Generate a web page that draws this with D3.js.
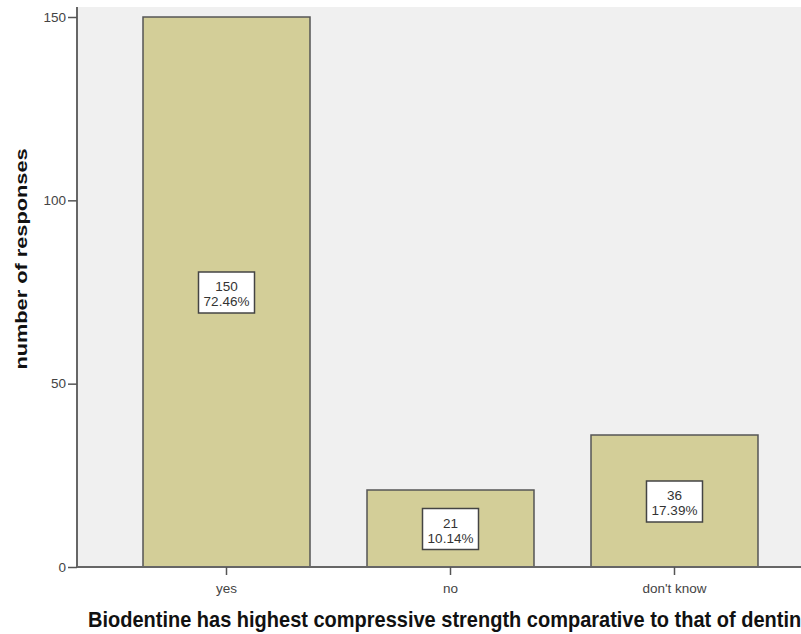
<!DOCTYPE html>
<html><head><meta charset="utf-8">
<script src="https://cdn.jsdelivr.net/npm/d3@7"></script>
<style>body{margin:0;background:#fff;}svg{display:block;font-family:Arial,"Liberation Sans",sans-serif;}</style>
</head><body><svg id="c" width="801" height="634"></svg>
<script>
const categories = ["yes", "no", "don't know"];
const counts = [150, 21, 36];
const percents = ["72.46%", "10.14%", "17.39%"];
const yTicks = [0, 50, 100, 150];
const xTitle = "Biodentine has highest compressive strength comparative to that of dentine";
const yTitle = "number of responses";

const svg = d3.select("#c");
const pLeft = 77, pTop = 7, pBottom = 567, pRight = 801;
const y = d3.scaleLinear().domain([0, 150]).range([pBottom, 17]);
const x = d3.scaleBand().domain(categories).range([86, 815]).padding(0.2545);

svg.append("rect").attr("x", pLeft).attr("y", pTop).attr("width", pRight - pLeft).attr("height", pBottom - pTop).attr("fill", "#f0f0f0");

const g = svg.append("g");
g.selectAll("rect.bar").data(categories).join("rect").attr("class", "bar")
  .attr("x", d => x(d)).attr("width", x.bandwidth())
  .attr("y", (d, i) => y(counts[i])).attr("height", (d, i) => y(0) - y(counts[i]))
  .attr("fill", "#d3ce98").attr("stroke", "#555").attr("stroke-width", 1.5);

// labels
categories.forEach((d, i) => {
  const cx = x(d) + x.bandwidth() / 2;
  const cy = (y(counts[i]) + y(0)) / 2 + 1;
  const lg = svg.append("g").attr("transform", `translate(${cx},${cy})`);
  lg.append("rect").attr("x", -28).attr("y", -21).attr("width", 56).attr("height", 41)
    .attr("fill", "#fff").attr("stroke", "#444").attr("stroke-width", 1.5);
  lg.append("text").attr("text-anchor", "middle").attr("y", -2).attr("font-size", 13.5).attr("fill", "#333").text(counts[i]);
  lg.append("text").attr("text-anchor", "middle").attr("y", 13).attr("font-size", 13.5).attr("fill", "#333").text(percents[i]);
});

// y axis
const ya = svg.append("g").attr("transform", `translate(${pLeft},0)`)
  .call(d3.axisLeft(y).tickValues(yTicks).tickSize(9).tickPadding(2));
ya.select(".domain").attr("stroke", "#666").attr("stroke-width", 2).attr("d", `M0,${pTop}V${pBottom}`);
ya.selectAll(".tick line").attr("stroke", "#555").attr("stroke-width", 1.5);
ya.selectAll(".tick text").attr("font-size", 13.5).attr("fill", "#444").attr("font-family", "Arial, 'Liberation Sans', sans-serif");

// x axis
const xa = svg.append("g").attr("transform", `translate(0,${pBottom})`)
  .call(d3.axisBottom(x).tickSize(8).tickPadding(8));
xa.select(".domain").attr("stroke", "#666").attr("stroke-width", 2).attr("d", `M${pLeft},0H${pRight}`);
xa.selectAll(".tick line").attr("stroke", "#555").attr("stroke-width", 1.5);
xa.selectAll(".tick text").attr("font-size", 13.5).attr("fill", "#444").attr("font-family", "Arial, 'Liberation Sans', sans-serif");

svg.append("text").attr("transform", "translate(88,627) scale(1,1.1)").attr("font-size", 20).attr("font-weight", "bold").attr("fill", "#111").text(xTitle);
svg.append("text").attr("transform", "translate(26.5,259) rotate(-90) scale(1.28,1)").attr("text-anchor", "middle")
  .attr("font-size", 17).attr("font-weight", "bold").attr("fill", "#111").text(yTitle);
</script></body></html>
